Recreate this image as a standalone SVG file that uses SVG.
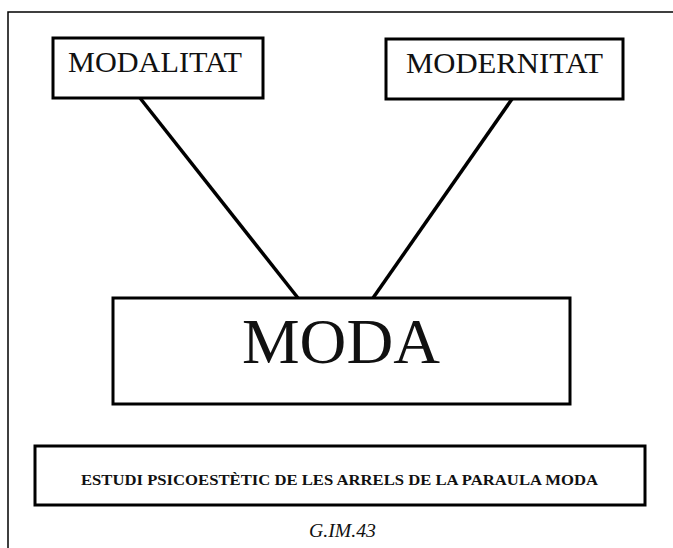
<svg xmlns="http://www.w3.org/2000/svg" width="673" height="548" viewBox="0 0 673 548">
<style>
.box{fill:#fff;stroke:#000;stroke-width:3}
.t{font-family:"Liberation Serif","Times New Roman",serif;fill:#111;text-anchor:middle}
.con{stroke:#000;stroke-width:3.5;fill:none}
</style>
<rect x="0" y="0" width="673" height="548" fill="#fff"/>
<g id="frame"><path d="M8 548 V12 H680" fill="none" stroke="#000" stroke-width="1.5"/></g>
<g id="connectors">
<line class="con" x1="140" y1="98" x2="298" y2="298"/>
<line class="con" x1="512" y1="99" x2="373" y2="298"/>
</g>
<g id="modalitat">
<rect class="box" x="53" y="38" width="210" height="60"/>
<text class="t" x="155" y="72" font-size="29" textLength="174" lengthAdjust="spacingAndGlyphs">MODALITAT</text>
</g>
<g id="modernitat">
<rect class="box" x="386" y="39" width="237" height="60"/>
<text class="t" x="504.5" y="73" font-size="29.5" textLength="197" lengthAdjust="spacingAndGlyphs">MODERNITAT</text>
</g>
<g id="moda">
<rect class="box" x="113" y="298" width="457" height="106"/>
<text class="t" x="341" y="363" font-size="63" textLength="198" lengthAdjust="spacingAndGlyphs">MODA</text>
</g>
<g id="estudi">
<rect class="box" x="35" y="446" width="610" height="59"/>
<text class="t" x="339.5" y="485" font-size="15" font-weight="bold" textLength="517" lengthAdjust="spacingAndGlyphs">ESTUDI  PSICOESTÈTIC DE LES ARRELS DE LA PARAULA MODA</text>
</g>
<g id="label">
<text class="t" x="342.5" y="537" font-size="19.5" font-style="italic" textLength="67" lengthAdjust="spacingAndGlyphs">G.IM.43</text>
</g>
</svg>
